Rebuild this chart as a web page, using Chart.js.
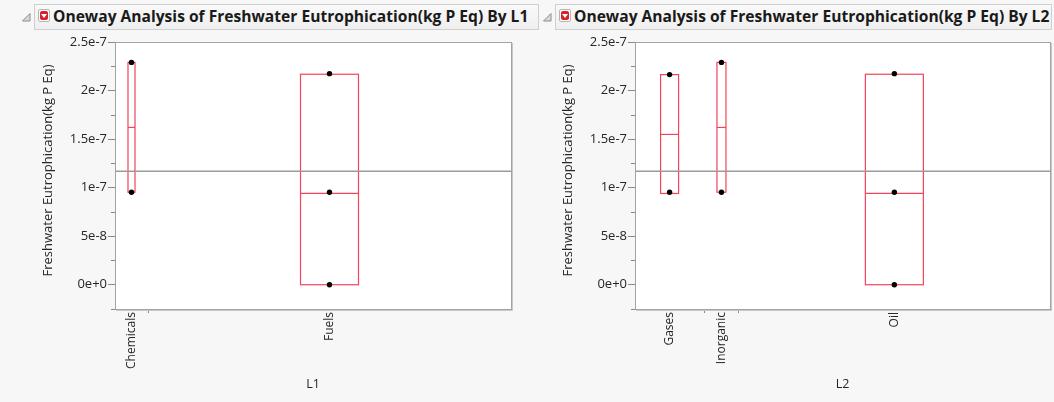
<!DOCTYPE html>
<html>
<head>
<meta charset="utf-8">
<script src="https://cdn.jsdelivr.net/npm/chart.js@4"></script>
<style>
  html, body { margin:0; padding:0; background:#f7f7f7; width:1054px; height:402px; overflow:hidden; font-family:"Open Sans", "DejaVu Sans", sans-serif; }
  .hdr { position:absolute; top:4px; height:26px; border:1px solid #cfcfcf; background:linear-gradient(#f9f9f9,#efefef); box-sizing:border-box; }
  .hdr .txt { position:absolute; top:0px; font-weight:bold; font-size:15.6px; color:#1a1a1a; white-space:nowrap; }
  .tri { position:absolute; top:13px; }
  .red { position:absolute; top:4px; left:3px; width:12px; height:13px; box-sizing:border-box; border:1px solid #b5b5b5; border-radius:2px; background:#fff; }
  .red i { position:absolute; left:1px; top:1px; width:8px; height:9px; border-radius:2px; background:#d8202c; }
  .red i:after { content:""; position:absolute; left:1px; top:3px; border-left:3px solid transparent; border-right:3px solid transparent; border-top:4px solid #fff; }
  canvas { position:absolute; top:0; }
</style>
</head>
<body>
<svg class="tri" style="left:22px" width="9" height="9"><polygon points="8,0.5 8,8 0.5,8" fill="#d9d9d9" stroke="#8c8c8c" stroke-width="1"/></svg>
<div class="hdr" style="left:34px;width:505px"><span class="red"><i></i></span><span class="txt" style="left:18px">Oneway Analysis of Freshwater Eutrophication(kg P Eq) By L1</span></div>
<svg class="tri" style="left:543px" width="9" height="9"><polygon points="8,0.5 8,8 0.5,8" fill="#d9d9d9" stroke="#8c8c8c" stroke-width="1"/></svg>
<div class="hdr" style="left:555px;width:497px"><span class="red"><i></i></span><span class="txt" style="left:18px">Oneway Analysis of Freshwater Eutrophication(kg P Eq) By L2</span></div>
<canvas id="c1" width="527" height="402" style="left:0px"></canvas>
<canvas id="c2" width="527" height="402" style="left:527px"></canvas>
<script>
// ---------- data ----------
const yTitle = 'Freshwater Eutrophication(kg P Eq)';
const yTickValues = [0, 5e-8, 1e-7, 1.5e-7, 2e-7, 2.5e-7];
const yTickLabels = ['0e+0', '5e-8', '1e-7', '1.5e-7', '2e-7', '2.5e-7'];
const yMinorValues = [-2.5e-8, 2.5e-8, 7.5e-8, 1.25e-7, 1.75e-7, 2.25e-7];

// L1
const l1Categories = ['Chemicals', 'Fuels'];
const l1Counts = [2, 22];
const l1Q1 = [0.953e-7, 0];
const l1Median = [1.62e-7, 0.94e-7];
const l1Q3 = [2.29e-7, 2.168e-7];
const l1Points = [[2.29e-7, 0.953e-7], [2.174e-7, 0.953e-7, 0]];
const l1GrandMean = 1.17e-7;

// L2
const l2Categories = ['Gases', 'Inorganic', 'Oil'];
const l2Counts = [4, 2, 18];
const l2Q1 = [0.94e-7, 0.953e-7, 0];
const l2Median = [1.548e-7, 1.62e-7, 0.94e-7];
const l2Q3 = [2.164e-7, 2.29e-7, 2.168e-7];
const l2Points = [[2.164e-7, 0.953e-7], [2.29e-7, 0.953e-7], [2.174e-7, 0.953e-7, 0]];
const l2GrandMean = 1.17e-7;

// ---------- styles ----------
const FONT = '"Open Sans", "DejaVu Sans", sans-serif';
const BOX_COLOR = '#f2445a';
const FRAME_COLOR = '#a3a3a3';
const TEXT_COLOR = '#262626';
const l1BoxPx = [7, 58];
const l2BoxPx = [18, 9, 58];

function makePanel(id, cats, counts, q1, med, q3, pts, grandMean, boxPx, xTitle, geo) {
  const total = counts.reduce((a, b) => a + b, 0);
  const starts = [], centers = [];
  let acc = 0;
  counts.forEach(c => { starts.push(acc); centers.push(acc + c / 2); acc += c; });
  const bounds = starts.slice(1);
  const labelByValue = new Map(centers.map((v, i) => [v, cats[i]]));

  const pointData = [];
  pts.forEach((arr, i) => arr.forEach(v => pointData.push({ x: centers[i], y: v })));

  const boxPlugin = {
    id: 'boxes',
    beforeDraw(chart) {
      const { ctx, chartArea: a } = chart;
      ctx.save();
      ctx.fillStyle = '#ffffff';
      ctx.fillRect(a.left, a.top, a.right - a.left, a.bottom - a.top);
      ctx.restore();
    },
    beforeDatasetsDraw(chart) {
      const { ctx, scales: { x, y } } = chart;
      ctx.save();
      ctx.strokeStyle = BOX_COLOR;
      ctx.lineWidth = 1.2;
      cats.forEach((c, i) => {
        const cx = x.getPixelForValue(centers[i]);
        const hw = boxPx[i] / 2;
        const yt = y.getPixelForValue(q3[i]);
        const yb = y.getPixelForValue(q1[i]);
        const ym = y.getPixelForValue(med[i]);
        ctx.strokeRect(cx - hw, yt, hw * 2, yb - yt);
        ctx.beginPath();
        ctx.moveTo(cx - hw, ym); ctx.lineTo(cx + hw, ym);
        ctx.stroke();
      });
      ctx.restore();
    },
    afterDraw(chart) {
      const { ctx, chartArea: a, scales: { y } } = chart;
      ctx.save();
      ctx.strokeStyle = FRAME_COLOR;
      ctx.lineWidth = 1;
      ctx.strokeRect(Math.round(a.left) + 0.5, Math.round(a.top) + 0.5, Math.round(a.right - a.left), Math.round(a.bottom - a.top));
      ctx.strokeStyle = '#c8c8c8';
      ctx.beginPath();
      ctx.moveTo(Math.round(a.right) + 1.5, Math.round(a.top) + 1); ctx.lineTo(Math.round(a.right) + 1.5, Math.round(a.bottom) + 1.5);
      ctx.lineTo(Math.round(a.left) + 1, Math.round(a.bottom) + 1.5);
      ctx.stroke();
      ctx.strokeStyle = '#8a8a8a';
      ctx.beginPath();
      yMinorValues.forEach(v => {
        const py = Math.round(y.getPixelForValue(v)) + 0.5;
        ctx.moveTo(a.left - 4, py); ctx.lineTo(a.left, py);
      });
      ctx.stroke();
      // y axis title
      ctx.fillStyle = TEXT_COLOR;
      ctx.font = '13px ' + FONT;
      ctx.textAlign = 'center';
      ctx.textBaseline = 'middle';
      ctx.translate(geo.yTitleX, (a.top + a.bottom) / 2 - 5);
      ctx.rotate(-Math.PI / 2);
      ctx.fillText(yTitle, 0, 0);
      ctx.restore();
    }
  };

  return new Chart(document.getElementById(id), {
    data: {
      datasets: [
        { type: 'line', data: [{ x: 0, y: grandMean }, { x: total, y: grandMean }], borderColor: '#9c9c9c', borderWidth: 1.5, pointRadius: 0, order: 2 },
        { type: 'scatter', data: pointData, backgroundColor: '#000', borderColor: '#000', pointRadius: 2.7, borderWidth: 0, order: 1 }
      ]
    },
    options: {
      responsive: false,
      animation: false,
      devicePixelRatio: 1,
      layout: { padding: { left: 0, right: geo.padRight, top: 42, bottom: 0 } },
      plugins: { legend: { display: false }, tooltip: { enabled: false } },
      scales: {
        x: {
          type: 'linear', min: 0, max: total,
          afterBuildTicks(s) { s.ticks = [...centers, ...bounds].sort((a, b) => a - b).map(v => ({ value: v })); },
          afterFit(s) { s.height = 93; },
          ticks: {
            autoSkip: false, maxRotation: 90, minRotation: 90, padding: -1,
            color: TEXT_COLOR, font: { family: FONT, size: 12 },
            callback: (v) => labelByValue.has(v) ? labelByValue.get(v) : ''
          },
          grid: { drawOnChartArea: false, tickLength: 4, color: (c) => (c.tick && labelByValue.has(c.tick.value)) ? 'rgba(0,0,0,0)' : '#8a8a8a' },
          border: { display: false },
          title: { display: true, text: xTitle, color: TEXT_COLOR, font: { family: FONT, size: 12.5 }, padding: { top: 0, bottom: 10 } }
        },
        y: {
          type: 'linear', min: -2.5e-8, max: 2.5e-7,
          afterBuildTicks(s) { s.ticks = yTickValues.map(v => ({ value: v })); },
          afterFit(s) { s.width = geo.yWidth; },
          ticks: { padding: 1, color: TEXT_COLOR, font: { family: FONT, size: 13 }, callback: (v, i) => yTickLabels[i] },
          grid: { drawOnChartArea: false, tickLength: 7, color: '#8a8a8a' },
          border: { display: false },
          title: { display: false }
        }
      }
    },
    plugins: [boxPlugin]
  });
}

makePanel('c1', l1Categories, l1Counts, l1Q1, l1Median, l1Q3, l1Points, l1GrandMean, l1BoxPx, 'L1', { padRight: 16, yWidth: 115, yTitleX: 48 });
makePanel('c2', l2Categories, l2Counts, l2Q1, l2Median, l2Q3, l2Points, l2GrandMean, l2BoxPx, 'L2', { padRight: 1, yWidth: 108, yTitleX: 41 });
</script>
</body>
</html>
